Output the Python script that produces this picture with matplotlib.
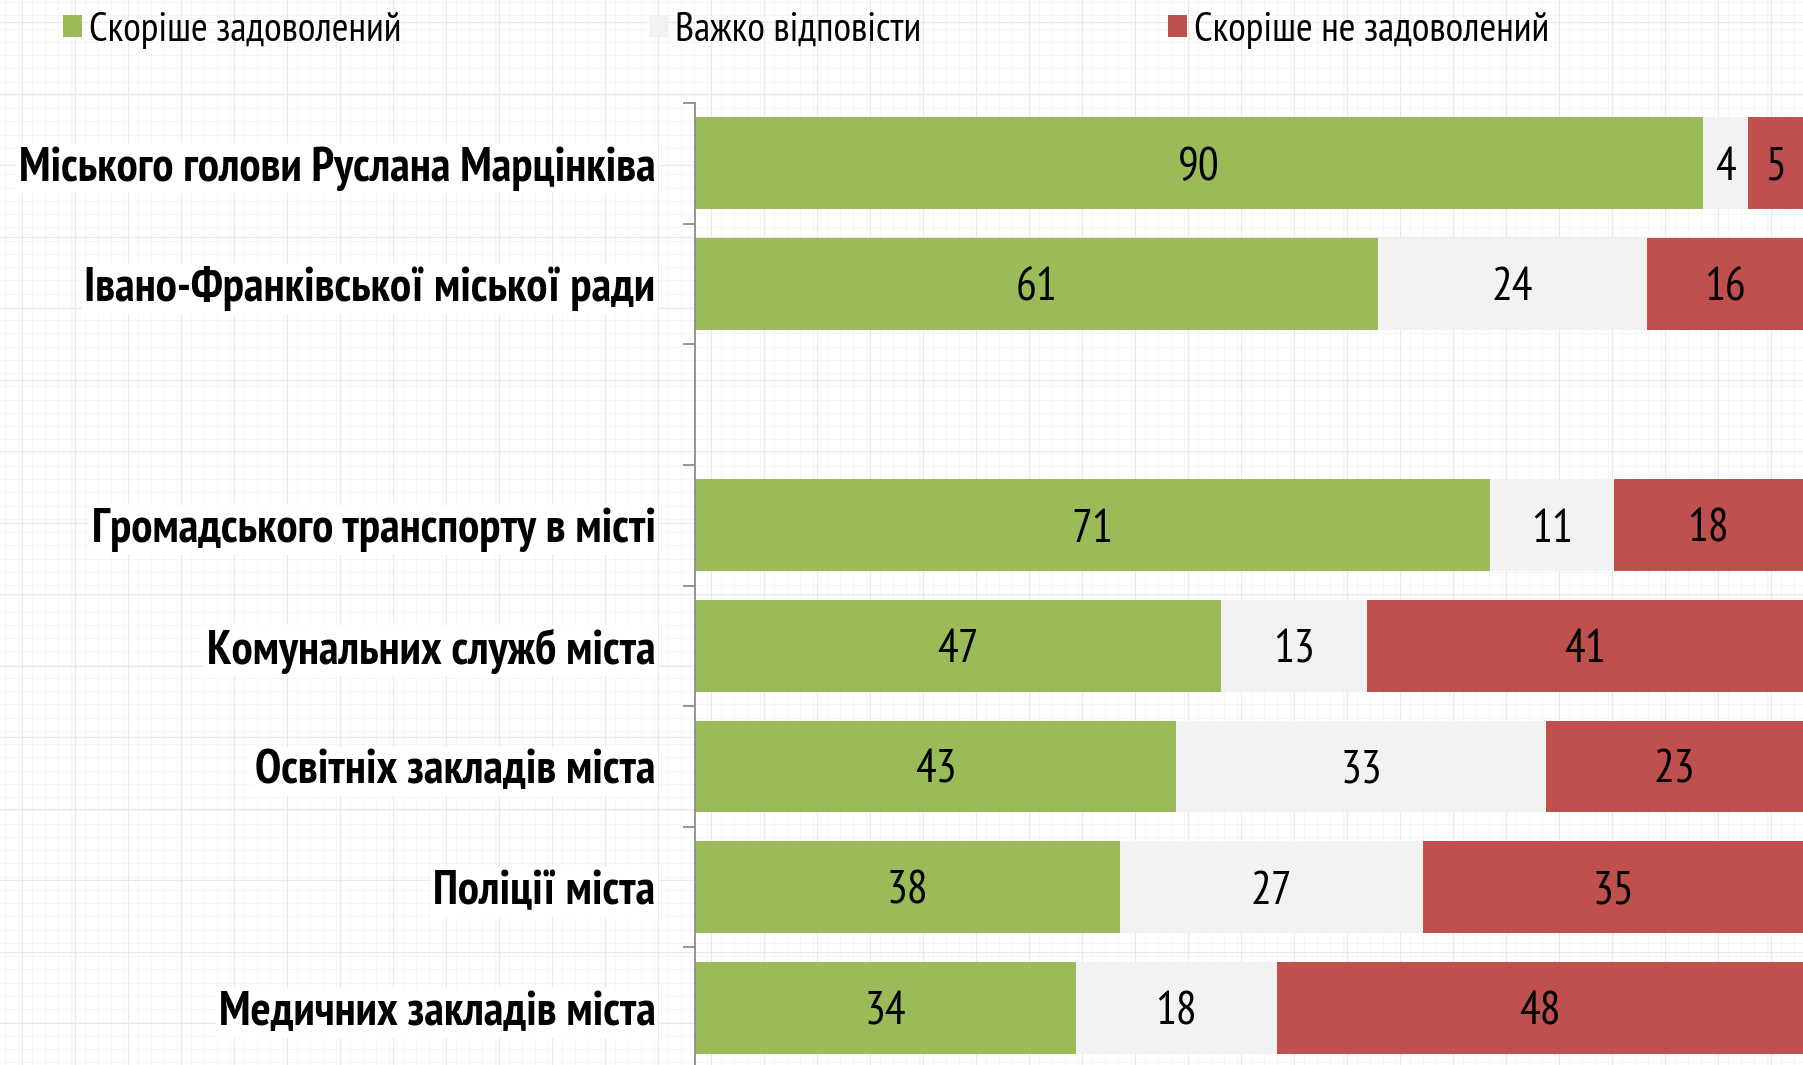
import numpy as np
import matplotlib
matplotlib.use("Agg")
import matplotlib.pyplot as plt
from matplotlib.patches import Patch
from matplotlib import font_manager as fm
from matplotlib.font_manager import FontProperties

# ---- data ----
categories = [
    "Міського голови Руслана Марцінківа",
    "Івано-Франківської міської ради",
    "",
    "Громадського транспорту в місті",
    "Комунальних служб міста",
    "Освітніх закладів міста",
    "Поліції міста",
    "Медичних закладів міста",
]
satisfied = [90, 61, np.nan, 71, 47, 43, 38, 34]
hard_to_say = [4, 24, np.nan, 11, 13, 33, 27, 18]
dissatisfied = [5, 16, np.nan, 18, 41, 23, 35, 48]
series_names = ["Скоріше задоволений", "Важко відповісти", "Скоріше не задоволений"]
colors = ["#9BBB59", "#F2F2F2", "#C0504D"]

XMAX = 98.9


# ---- choose a narrow font (Arial Narrow look-alike) ----
def _weight(w):
    try:
        return int(w)
    except Exception:
        return {"bold": 700, "normal": 400, "regular": 400}.get(str(w), 400)


def pick_fonts():
    prefs = ["Liberation Sans Narrow", "Arial Narrow", "PT Sans Narrow", "Archivo Narrow",
             "Roboto Condensed", "IBM Plex Sans Condensed", "Open Sans Condensed"]
    fams = {}
    for f in fm.fontManager.ttflist:
        if f.style != "normal":
            continue
        fams.setdefault(f.name, []).append(f)
    for p in prefs:
        if p in fams:
            reg = [f for f in fams[p] if _weight(f.weight) == 400 and "[" not in f.fname]
            bold = [f for f in fams[p] if _weight(f.weight) == 700 and "[" not in f.fname]
            if reg and bold:
                return FontProperties(fname=reg[0].fname), FontProperties(fname=bold[0].fname)
    return (FontProperties(family="Liberation Sans"),
            FontProperties(family="Liberation Sans", weight="bold"))


FP_REG, FP_BOLD = pick_fonts()

W, H = 1803, 1065
fig = plt.figure(figsize=(W / 100, H / 100), dpi=100)
fig.patch.set_facecolor("white")
renderer = fig.canvas.get_renderer()


def fit_size(text, fp, target_w):
    p = fp.copy()
    p.set_size(20)
    t = fig.text(0, 0, text, fontproperties=p)
    w = t.get_window_extent(renderer).width
    t.remove()
    return 20 * target_w / w


LBL_SIZE = fit_size(categories[0], FP_BOLD, 640)
VAL_SIZE = fit_size("90", FP_REG, 37) * 1.12
LEG_SIZE = fit_size(series_names[0], FP_REG, 312)

# faint graph-paper background
bg = fig.add_axes([0, 0, 1, 1], zorder=-10)
bg.set_xlim(0, W)
bg.set_ylim(0, H)
bg.axis("off")
for x in np.arange(5, W, 13.25):
    bg.axvline(x, color="#f5f5f5", lw=0.6)
for y in np.arange(3, H, 13.25):
    bg.axhline(y, color="#f5f5f5", lw=0.6)
for x in np.arange(22, W, 53):
    bg.axvline(x, color="#e9e9e9", lw=0.8)
for y in np.arange(42, H, 71.5):
    bg.axhline(y, color="#e9e9e9", lw=0.8)

ax = fig.add_axes([694.5 / W, -3 / H, 1 - 694.5 / W, 965 / H])
ax.patch.set_alpha(0)

n = len(categories)
ypos = np.arange(n)
bar_h = 0.76
vp = FP_REG.copy()
vp.set_size(VAL_SIZE)
left = np.zeros(n)
for vals, col, name in zip([satisfied, hard_to_say, dissatisfied], colors, series_names):
    v = np.nan_to_num(np.array(vals, dtype=float))
    ax.barh(ypos, v, left=left, height=bar_h, color=col, label=name, zorder=2)
    for i in range(n):
        if v[i] > 0:
            lo = left[i]
            hi = min(left[i] + v[i], XMAX)
            ax.text((lo + hi) / 2, ypos[i], f"{int(v[i])}", ha="center", va="center_baseline",
                    fontproperties=vp, color="black", zorder=3)
    left = left + v

ax.set_xlim(0, XMAX)
ax.set_ylim(n - 0.5, -0.5)
ax.set_xticks([])
for s in ["top", "right", "bottom"]:
    ax.spines[s].set_visible(False)
ax.spines["left"].set_color("#8c8c8c")
ax.spines["left"].set_linewidth(1.3)
ax.spines["left"].set_zorder(4)

ax.set_yticks(np.arange(-0.5, n, 1.0))
ax.set_yticklabels([])
ax.tick_params(axis="y", which="major", length=9, width=1.3, color="#8c8c8c", direction="out")
ax.set_yticks(ypos, minor=True)
ax.set_yticklabels(categories, minor=True)
ax.tick_params(axis="y", which="minor", length=0, pad=28)
lp = FP_BOLD.copy()
lp.set_size(LBL_SIZE)
for t in ax.get_yticklabels(minor=True):
    t.set_fontproperties(lp)
    t.set_bbox(dict(facecolor="white", edgecolor="none", pad=2))

handles = [Patch(facecolor=c, edgecolor="none") for c in colors]
gp = FP_REG.copy()
gp.set_size(LEG_SIZE)
k = 22.5 / LEG_SIZE
leg = fig.legend(handles, series_names, loc="center left",
                 bbox_to_anchor=(63 / W, 1 - 30 / H), ncol=3, frameon=False,
                 prop=gp,
                 handlelength=0.62 * k, handleheight=0.62 * k,
                 handletextpad=0.22 * k,
                 columnspacing=7.9 * k, borderaxespad=0, borderpad=0)

fig.savefig("out.png", dpi=100, facecolor="white")
